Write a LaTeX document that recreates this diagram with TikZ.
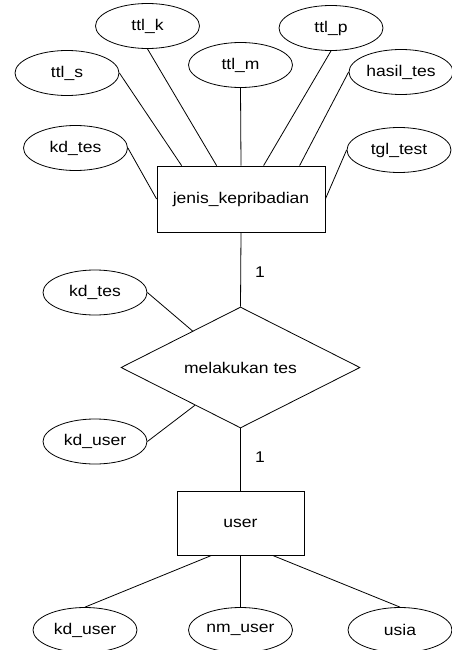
\documentclass[tikz,border=0pt]{standalone}
\usepackage{fontspec}
\setmainfont[FakeStretch=1.13]{Liberation Sans}
\usepackage{tikz}
\usetikzlibrary{shapes.geometric}
\usetikzlibrary{calc}
\tikzset{
    attr/.style={
        ellipse, draw, line width=0.8pt,
        minimum width=104pt, minimum height=45pt, inner sep=0pt
    },
    entity/.style={
        rectangle, draw, line width=0.8pt, inner sep=0pt
    },
    rel/.style={
        diamond, draw, line width=0.8pt, aspect=2, inner sep=0pt,
        minimum width=239pt, minimum height=121pt
    },
    link/.style={line width=0.8pt}
}
\newcommand{\attribute}[4] {
	\node[attr] (#1) at (#2,#3) {#4};
}
\begin{document}
\begin{tikzpicture}[x=1pt, y=-1pt, font=\fontsize{15.5pt}{18pt}\selectfont]
		\useasboundingbox (0,0) rectangle (451,650);

		% jenis_kepribadian
		\node[entity, minimum width=168pt, minimum height=66pt] (jk) at (241,199) {jenis\_kepribadian};
		\attribute{ttlk}{147.5}{26}{ttl\_k}
		\attribute{ttlp}{331}{28}{ttl\_p}
		\attribute{ttlm}{240.5}{65}{ttl\_m}
		\attribute{ttls}{67}{73}{ttl\_s}
		\attribute{hasiltes}{401}{72}{hasil\_tes}
		\attribute{kdtesa}{75.5}{148}{kd\_tes}
		\attribute{tgltest}{399}{150}{tgl\_test}

		\draw[link] (ttls.east) -- ([xshift=25pt]jk.north west);
		\draw[link] (ttlk.south) -- ([xshift=60pt]jk.north west);
		\draw[link] (ttlm.south) -- (jk.north);
		\draw[link] (ttlp.south) -- ([xshift=107pt]jk.north west);
		\draw[link] (hasiltes.west) -- ([xshift=143pt]jk.north west);
		\draw[link] (kdtesa.east) -- (jk.west);
		\draw[link] (tgltest.west) -- (jk.east);

		% melakukan tes
		\node[rel] (mt) at (240.5,367.5) {melakukan tes};
		\attribute{kdtesb}{95}{292.5}{kd\_tes}
		\attribute{kdusera}{95}{441.5}{kd\_user}

		\draw[link] (kdtesb.east) -- ($(mt.north)!0.4!(mt.west)$);
		\draw[link] (kdusera.east) -- ($(mt.south)!0.38!(mt.west)$);

		\draw[link] (jk.south) -- (mt.north);
		\node (cja) at (260,272) {1};

		% user
		\node[entity, minimum width=127pt, minimum height=64pt] (usr) at (240.5,523) {user};
		\attribute{kduserb}{85}{630}{kd\_user}
		\attribute{nmuser}{240.5}{630}{nm\_user}
		\attribute{usia}{400}{630}{usia}

		\draw[link] (mt.south) -- (usr.north);
		\node (cjb) at (260,457) {1};

		\draw[link] ([xshift=35pt]usr.south west) -- (kduserb.north);
		\draw[link] (usr.south) -- (nmuser.north);
		\draw[link] ([xshift=96pt]usr.south west) -- (usia.north);

	\end{tikzpicture}
\end{document}
